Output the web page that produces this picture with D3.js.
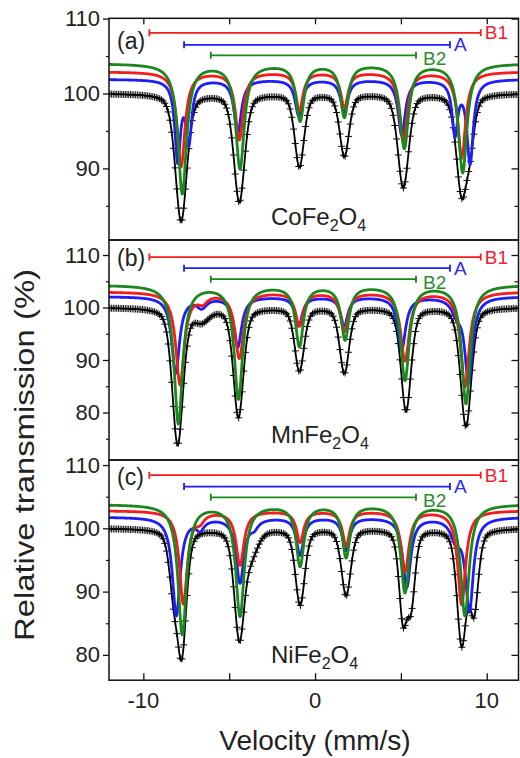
<!DOCTYPE html>
<html>
<head>
<meta charset="utf-8">
<script src="https://cdnjs.cloudflare.com/ajax/libs/d3/7.8.5/d3.min.js"></script>
<style>
  body { margin: 0; background: #fff; }
  svg { display: block; font-family: "Liberation Sans", Arial, sans-serif; }
</style>
</head>
<body>
<div id="chart"></div>
<script>
// ---------------- data ----------------
const velocityTicks = [-10, -5, 0, 5, 10];
const velocityLabels = [-10, 0, 10];
const panelTags = ["(a)", "(b)", "(c)"];
const compounds = [["CoFe", "2", "O", "4"], ["MnFe", "2", "O", "4"], ["NiFe", "2", "O", "4"]];
const yDomains = [[80.44, 110.04], [70.95, 112.86], [76.0, 110.8]];
const yMajor = [[90, 100, 110], [80, 90, 100, 110], [80, 90, 100, 110]];
const yMinor = [[85, 95, 105], [75, 85, 95, 105], [85, 95, 105]];
const siteNames = ["B1", "A", "B2"];
const siteSpan = [[-9.65, 9.65], [-7.63, 7.86], [-6.07, 5.88]];
const siteLevel = [[108.1, 106.5, 105.1], [109.6, 107.5, 105.4], [108.4, 106.6, 104.9]];

// baselines (%): [data, B1, A, B2]
const baseCo = [100, 102.9, 101.9, 104.0];
const baseMn = [100, 103.0, 102.1, 104.3];
const baseNi = [100, 102.8, 101.8, 103.8];

// absorption lines: [velocity (mm/s), depth (%), width (mm/s)]
const coData = [[-7.80, 17.0, 0.8], [-4.41, 14.4, 0.75], [-0.91, 9.7, 0.65], [1.71, 8.3, 0.65], [5.14, 12.5, 0.75], [8.54, 13.0, 0.75], [9.05, 5.0, 0.6]];
const coB1 = [[-7.80, 12.6, 0.55], [-4.41, 9.0, 0.55], [-0.91, 5.1, 0.5], [1.71, 4.7, 0.5], [5.14, 9.2, 0.55], [8.54, 11.5, 0.55]];
const coA = [[-8.0, 10.5, 0.4], [-7.35, 8.0, 0.4], [-4.5, 7.2, 0.5], [-0.95, 4.8, 0.5], [1.7, 4.4, 0.5], [5.05, 7.4, 0.5], [8.15, 7.0, 0.4], [9.03, 11.0, 0.45]];
const coB2 = [[-7.73, 17.3, 0.6], [-4.37, 13.9, 0.6], [-0.87, 7.5, 0.55], [1.71, 7.0, 0.55], [5.2, 11.2, 0.6], [8.6, 14.5, 0.6]];

const mnData = [[-8.0, 26.0, 0.75], [-6.6, 2.2, 1.0], [-4.46, 20.8, 0.7], [-0.91, 12.0, 0.65], [1.71, 12.4, 0.65], [5.3, 19.6, 0.7], [8.79, 22.6, 0.75]];
const mnB1 = [[-7.86, 17.5, 0.6], [-6.55, 1.5, 0.7], [-4.41, 12.5, 0.6], [-0.91, 6.3, 0.55], [1.71, 7.4, 0.55], [5.24, 13.0, 0.6], [8.73, 18.0, 0.6]];
const mnA = [[-8.12, 14.5, 0.55], [-6.6, 1.8, 0.7], [-4.5, 9.5, 0.55], [-0.95, 5.5, 0.5], [1.7, 5.5, 0.5], [5.05, 10.0, 0.55], [8.25, 2.5, 0.7], [8.95, 16.0, 0.55]];
const mnB2 = [[-7.96, 26.3, 0.6], [-4.46, 21.5, 0.6], [-0.91, 11.5, 0.55], [1.75, 10.2, 0.55], [5.24, 18.0, 0.6], [8.79, 22.5, 0.6]];

const niData = [[-8.25, 8.0, 0.6], [-7.76, 19.0, 0.65], [-4.41, 17.0, 0.7], [-3.7, 3.5, 0.9], [-0.87, 12.0, 0.65], [1.81, 10.5, 0.65], [5.12, 13.5, 0.55], [5.6, 11.0, 0.55], [8.54, 17.8, 0.65], [9.26, 12.5, 0.6]];
const niB1 = [[-7.67, 14.6, 0.55], [-6.7, 1.2, 0.6], [-4.37, 8.5, 0.55], [-0.87, 4.9, 0.5], [1.81, 5.4, 0.5], [5.24, 9.6, 0.55], [8.54, 14.8, 0.55]];
const niA = [[-8.08, 15.5, 0.55], [-6.7, 1.6, 0.6], [-4.37, 10.2, 0.55], [-3.55, 1.2, 0.6], [-0.87, 5.9, 0.5], [1.81, 5.2, 0.5], [5.34, 11.0, 0.55], [8.2, 3.0, 0.7], [8.99, 14.5, 0.55]];
const niB2 = [[-7.73, 20.5, 0.6], [-4.37, 17.5, 0.6], [-0.87, 9.6, 0.55], [1.81, 8.2, 0.55], [5.24, 13.8, 0.6], [8.73, 17.5, 0.6]];

const spectra = [
  {base: baseCo, data: coData, comps: [coB1, coA, coB2]},
  {base: baseMn, data: mnData, comps: [mnB1, mnA, mnB2]},
  {base: baseNi, data: niData, comps: [niB1, niA, niB2]}
];

// ---------------- layout ----------------
const WIDTH = 520, HEIGHT = 758;
const X0 = 109, X1 = 518.5;
const PANELS = [
  {top: 18.3, bottom: 240, tagY: 41, nameY: 225},
  {top: 240, bottom: 460, tagY: 258, nameY: 443},
  {top: 460, bottom: 680.2, tagY: 477, nameY: 663}
];
const COLORS = ["#f41c1c", "#1f1ff5", "#1c871c"];
const TEXT_COLORS = ["#f01e2e", "#2a2af0", "#2f8a2f"];
const DATA_ETA = 0.4;   // lorentzian fraction of the measured line shape

const svg = d3.select("#chart").append("svg")
  .attr("width", WIDTH).attr("height", HEIGHT);

const x = d3.scaleLinear().domain([-12, 11.85]).range([X0, X1]);
const fine = d3.range(-12, 12.0001, 0.02);
const coarse = d3.range(-11.95, 12, 0.1);

function transmission(base, lines, v, eta) {
  let t = base;
  lines.forEach(([p, d, w]) => {
    const h = w / 2, dv = v - p;
    const lor = h * h / (dv * dv + h * h);
    const gau = Math.exp(-Math.LN2 * dv * dv / (h * h));
    t -= d * (eta * lor + (1 - eta) * gau);
  });
  return t;
}

PANELS.forEach((P, i) => {
  const s = spectra[i];
  const y = d3.scaleLinear().domain(yDomains[i]).range([P.bottom, P.top]);
  const g = svg.append("g");

  const clipId = "clip" + i;
  svg.append("clipPath").attr("id", clipId)
    .append("rect").attr("x", X0).attr("y", P.top)
    .attr("width", X1 - X0).attr("height", P.bottom - P.top);

  const plot = g.append("g").attr("clip-path", `url(#${clipId})`);

  // measured points with error bars
  let crosses = "";
  coarse.forEach(v => {
    const px = x(v), py = y(transmission(s.base[0], s.data, v, DATA_ETA));
    crosses += `M${px - 3.5},${py}h7M${px},${py - 3.5}v7`;
  });
  plot.append("path").attr("d", crosses)
    .attr("fill", "none").attr("stroke", "#111").attr("stroke-width", 1);

  const line = d3.line().x(d => x(d[0])).y(d => y(d[1]));

  plot.append("path")
    .datum(fine.map(v => [v, transmission(s.base[0], s.data, v, DATA_ETA)]))
    .attr("d", line).attr("fill", "none").attr("stroke", "#000").attr("stroke-width", 1.8);

  // subspectra: draw A (blue) first, then B1 (red), then B2 (green)
  [1, 0, 2].forEach(k => {
    plot.append("path")
      .datum(fine.map(v => [v, transmission(s.base[k + 1], s.comps[k], v, 1)]))
      .attr("d", line).attr("fill", "none")
      .attr("stroke", COLORS[k]).attr("stroke-width", 2.8)
      .attr("stroke-linejoin", "round");
  });

  // site bars
  siteNames.forEach((name, k) => {
    const yy = y(siteLevel[i][k]);
    const xa = x(siteSpan[k][0]), xb = x(siteSpan[k][1]);
    g.append("path")
      .attr("d", `M${xa},${yy}H${xb}M${xa},${yy - 3.5}v7M${xb},${yy - 3.5}v7`)
      .attr("stroke", COLORS[k]).attr("stroke-width", 1.8).attr("fill", "none");
    g.append("text")
      .attr("x", xb + (k === 2 ? 7 : 4)).attr("y", yy + (k === 2 ? 3.5 : 0))
      .attr("dy", "0.35em")
      .attr("fill", TEXT_COLORS[k]).attr("font-size", 19)
      .text(name);
  });

  // frame
  g.append("rect").attr("x", X0).attr("y", P.top)
    .attr("width", X1 - X0).attr("height", P.bottom - P.top)
    .attr("fill", "none").attr("stroke", "#111").attr("stroke-width", 1.5);

  // y ticks
  const leftAxis = d3.axisLeft(y).tickValues(yMajor[i]).tickSize(6).tickPadding(3);
  const ga = g.append("g").attr("transform", `translate(${X0},0)`).call(leftAxis);
  ga.select(".domain").remove();
  ga.selectAll("text").attr("font-size", 22).attr("fill", "#222")
    .attr("font-family", "'Liberation Sans', Arial, sans-serif");
  ga.selectAll("line").attr("stroke", "#111").attr("stroke-width", 1.3);

  g.append("g").attr("transform", `translate(${X0},0)`)
    .call(d3.axisLeft(y).tickValues(yMinor[i]).tickSize(3).tickFormat(""))
    .call(a => a.select(".domain").remove())
    .selectAll("line").attr("stroke", "#111").attr("stroke-width", 1.2);

  g.append("g").attr("transform", `translate(${X1},0)`)
    .call(d3.axisLeft(y).tickValues(yMajor[i]).tickSize(7).tickFormat(""))
    .call(a => a.select(".domain").remove())
    .selectAll("line").attr("stroke", "#111").attr("stroke-width", 1.3);

  g.append("g").attr("transform", `translate(${X1},0)`)
    .call(d3.axisLeft(y).tickValues(yMinor[i]).tickSize(4).tickFormat(""))
    .call(a => a.select(".domain").remove())
    .selectAll("line").attr("stroke", "#111").attr("stroke-width", 1.2);

  // panel tag and compound name
  g.append("text").attr("x", 117).attr("y", P.tagY).attr("dy", "0.35em")
    .attr("font-size", 23).attr("fill", "#222").text(panelTags[i]);

  const name = g.append("text").attr("x", 271).attr("y", P.nameY)
    .attr("font-size", 24).attr("fill", "#222");
  compounds[i].forEach((part, j) => {
    const sub = j % 2 === 1;
    name.append("tspan")
      .attr("font-size", sub ? 16 : 24)
      .attr("dy", sub ? 6 : (j === 0 ? 0 : -6))
      .text(part);
  });
});

// x ticks: top of first panel and bottom of last panel (inward)
svg.append("g").attr("transform", `translate(0,${PANELS[0].top})`)
  .call(d3.axisTop(x).tickValues(velocityTicks).tickSize(-6).tickFormat(""))
  .call(a => a.select(".domain").remove())
  .selectAll("line").attr("stroke", "#111").attr("stroke-width", 1.3);

const bottomY = PANELS[2].bottom;
svg.append("g").attr("transform", `translate(0,${bottomY})`)
  .call(d3.axisBottom(x).tickValues(velocityTicks).tickSize(-7).tickFormat(""))
  .call(a => a.select(".domain").remove())
  .selectAll("line").attr("stroke", "#111").attr("stroke-width", 1.3);

svg.append("g").selectAll("text").data(velocityLabels).join("text")
  .attr("x", d => x(d)).attr("y", bottomY + 28)
  .attr("text-anchor", "middle").attr("font-size", 22).attr("fill", "#222")
  .text(d => d < 0 ? "-" + Math.abs(d) : d);

// axis titles
svg.append("text").attr("x", 315).attr("y", 750)
  .attr("text-anchor", "middle").attr("font-size", 28).attr("fill", "#222")
  .text("Velocity (mm/s)");

svg.append("text")
  .attr("transform", "translate(34,455) rotate(-90)")
  .attr("text-anchor", "middle").attr("font-size", 27).attr("fill", "#222")
  .attr("textLength", 372).attr("lengthAdjust", "spacingAndGlyphs")
  .text("Relative transmission (%)");
</script>
</body>
</html>
